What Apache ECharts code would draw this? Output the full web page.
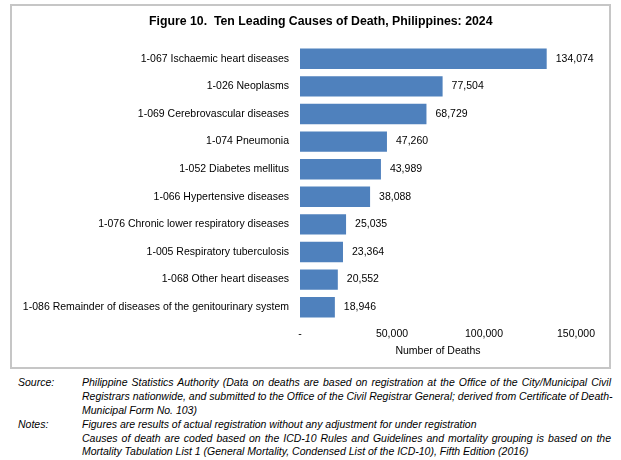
<!DOCTYPE html>
<html>
<head>
<meta charset="utf-8">
<script src="https://cdn.jsdelivr.net/npm/echarts@6/dist/echarts.min.js"></script>
<style>
  html, body { margin: 0; padding: 0; background: #fff; }
  #wrap { position: relative; width: 621px; height: 460px; overflow: hidden; }
  #frame { position: absolute; left: 10px; top: 4px; width: 597px; height: 361px; border: 2px solid #c6c6c6; }
  #chart { position: absolute; left: 0; top: 0; width: 621px; height: 372px; }
  #notes { position: absolute; left: 0; top: 376px; width: 621px; font-family: "Liberation Sans", Arial, sans-serif;
           font-size: 10.5px; font-style: italic; color: #000; line-height: 13.9px; }
  .row { position: relative; height: 13.9px; }
  .lab { position: absolute; left: 18px; }
  .txt { position: absolute; left: 82px; right: 10px; white-space: nowrap; }
  .just { text-align: justify; text-align-last: justify; }
</style>
</head>
<body>
<div id="wrap">
  <div id="frame"></div>
  <div id="chart"></div>
  <div id="notes">
    <div class="row"><span class="lab">Source:</span><span class="txt just">Philippine Statistics Authority (Data on deaths are based on registration at the Office of the City/Municipal Civil</span></div>
    <div class="row"><span class="txt just">Registrars nationwide, and submitted to the Office of the Civil Registrar General; derived from Certificate of Death-</span></div>
    <div class="row"><span class="txt">Municipal Form No. 103)</span></div>
    <div class="row"><span class="lab">Notes:</span><span class="txt">Figures are results of actual registration without any adjustment for under registration</span></div>
    <div class="row"><span class="txt just">Causes of death are coded based on the ICD-10 Rules and Guidelines and mortality grouping is based on the</span></div>
    <div class="row"><span class="txt">Mortality Tabulation List 1 (General Mortality, Condensed List of the ICD-10), Fifth Edition (2016)</span></div>
  </div>
</div>
<script>
// causes of death, top to bottom
var causes = [
  '1-067 Ischaemic heart diseases',
  '1-026 Neoplasms',
  '1-069 Cerebrovascular diseases',
  '1-074 Pneumonia',
  '1-052 Diabetes mellitus',
  '1-066 Hypertensive diseases',
  '1-076 Chronic lower respiratory diseases',
  '1-005 Respiratory tuberculosis',
  '1-068 Other heart diseases',
  '1-086 Remainder of diseases of the genitourinary system'
];
var deaths = [134074, 77504, 68729, 47260, 43989, 38088, 25035, 23364, 20552, 18946];
var axisMax = 150000;
var axisStep = 50000;

var font = '"Liberation Sans", Arial, sans-serif';
function fmt(v) {
  return v === 0 ? '-' : v.toLocaleString('en-US');
}

var chart = echarts.init(document.getElementById('chart'), null, { renderer: 'canvas' });
chart.setOption({
  animation: false,
  title: {
    text: 'Figure 10.  Ten Leading Causes of Death, Philippines: 2024',
    left: 144,
    top: 11,
    textStyle: { fontFamily: font, fontSize: 12.3, fontWeight: 'bold', color: '#000' }
  },
  grid: { left: 300, right: 45, top: 45, bottom: 51 },
  xAxis: {
    type: 'value',
    min: 0,
    max: axisMax,
    interval: axisStep,
    axisLine: { show: false },
    axisTick: { show: false },
    splitLine: { show: false },
    axisLabel: { formatter: fmt, fontFamily: font, fontSize: 10.5, color: '#000', margin: 8 },
    name: 'Number of Deaths',
    nameLocation: 'middle',
    nameGap: 25,
    nameTextStyle: { fontFamily: font, fontSize: 10.5, color: '#000' }
  },
  yAxis: {
    type: 'category',
    inverse: true,
    data: causes,
    axisLine: { show: false },
    axisTick: { show: false },
    axisLabel: { fontFamily: font, fontSize: 10.5, color: '#000', margin: 11 }
  },
  series: [{
    type: 'bar',
    data: deaths,
    barCategoryGap: '26%',
    itemStyle: { color: '#4f81bd' },
    label: {
      show: true,
      position: 'right',
      distance: 9,
      formatter: function (p) { return fmt(p.value); },
      fontFamily: font,
      fontSize: 10.5,
      color: '#000'
    }
  }]
});
</script>
</body>
</html>
